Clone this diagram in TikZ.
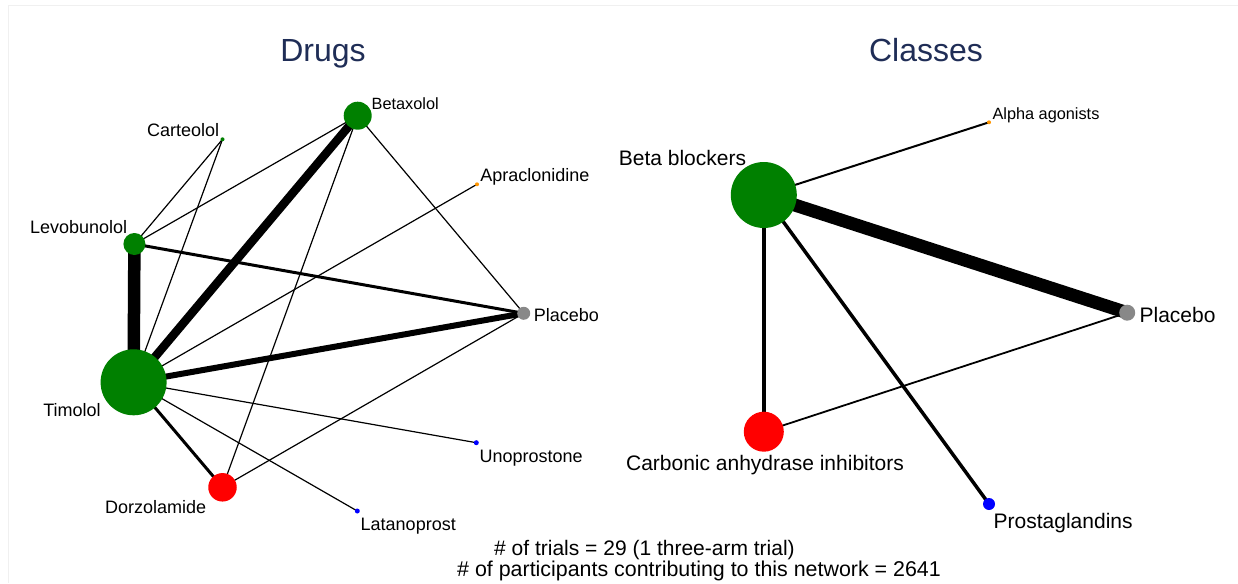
\documentclass[tikz,border=0pt]{standalone}
\usepackage{fontspec}
\setmainfont{Liberation Sans}
\usepackage{xcolor}
\usetikzlibrary{backgrounds}

\definecolor{netgreen}{RGB}{0,128,0}
\definecolor{netgray}{RGB}{136,136,136}
\definecolor{netorange}{RGB}{255,150,0}
\definecolor{titleblue}{RGB}{31,45,86}

\begin{document}
\begin{tikzpicture}[x=1pt, y=-1pt,
        nd/.style={circle, inner sep=0pt, draw=none, minimum size=#1},
        lbl/.style={inner sep=0pt, font=\fontsize{18}{20}\selectfont},
        lblS/.style={inner sep=0pt, font=\fontsize{16.3}{18}\selectfont},
        lblL/.style={inner sep=0pt, font=\fontsize{21}{24}\selectfont},
        ttl/.style={inner sep=0pt, anchor=base, text=titleblue, font=\fontsize{32}{36}\selectfont}]
            \useasboundingbox (0, 0) rectangle (1238, 583);
            \draw[black!6] (8, 583) -- (8, 5) -- (1238, 5);

            \node[ttl] (drugs) at (323, 61.5) {Drugs};
            \node[ttl] (classes) at (926, 61.5) {Classes};

            % drugs
            \node[nd=28, fill=netgreen] (bet) at (357.7, 115.7) {};
            \node[nd=4, fill=netgreen] (car) at (222.5, 139.3) {};
            \node[nd=4, fill=netorange] (apr) at (477, 184.3) {};
            \node[nd=22, fill=netgreen] (lev) at (134.4, 244) {};
            \node[nd=13, fill=netgray] (pla) at (523.7, 313.3) {};
            \node[nd=66, fill=netgreen] (tim) at (133.6, 382.3) {};
            \node[nd=28.5, fill=red] (dor) at (222.5, 487.3) {};
            \node[nd=5, fill=blue] (uno) at (476.3, 442.7) {};
            \node[nd=5, fill=blue] (lat) at (357.3, 511) {};

            \node[lblS, anchor=west] (betl) at (371.5, 103.3) {Betaxolol};
            \node[lbl, anchor=east] (carl) at (219.4, 130) {Carteolol};
            \node[lbl, anchor=west] (aprl) at (480.2, 176.7) {Apraclonidine};
            \node[lbl, anchor=east] (levl) at (127.3, 226.7) {Levobunolol};
            \node[lbl, anchor=west] (plal) at (533.6, 315) {Placebo};
            \node[lbl, anchor=east] (timl) at (100.8, 410) {Timolol};
            \node[lbl, anchor=east] (dorl) at (206.3, 506.7) {Dorzolamide};
            \node[lbl, anchor=west] (unol) at (479.4, 457.7) {Unoprostone};
            \node[lbl, anchor=west] (latl) at (360.5, 526) {Latanoprost};

            % classes
            \node[nd=66, fill=netgreen] (bb) at (763.8, 195) {};
            \node[nd=4, fill=netorange] (aa) at (989, 122.3) {};
            \node[nd=16, fill=netgray] (pc) at (1127.2, 312.7) {};
            \node[nd=40, fill=red] (cai) at (763.8, 431.7) {};
            \node[nd=12, fill=blue] (pg) at (989, 504) {};

            \node[lblL, anchor=east] (bbl) at (746.3, 158.3) {Beta blockers};
            \node[lblS, anchor=west] (aal) at (992.3, 115) {Alpha agonists};
            \node[lblL, anchor=west] (pcl) at (1139.4, 315) {Placebo};
            \node[lblL] (cail) at (765, 465) {Carbonic anhydrase inhibitors};
            \node[lblL, anchor=west] (pgl) at (993.5, 523.3) {Prostaglandins};

            \node[lblL, anchor=west] (ntrials) at (494, 550) {\# of trials = 29 (1 three-arm trial)};
            \node[lblL, anchor=west, font=\fontsize{21.4}{24}\selectfont] (nparts) at (457, 571) {\# of participants contributing to this network = 2641};

            \begin{scope}[on background layer]
                \draw[line width=12.5] (lev.center) -- (tim.center);
                \draw[line width=8.5] (bet.center) -- (tim.center);
                \draw[line width=6] (tim.center) -- (pla.center);
                \draw[line width=3] (lev.center) -- (pla.center);
                \draw[line width=3] (tim.center) -- (dor.center);
                \draw[line width=1.2] (car.center) -- (lev.center);
                \draw[line width=1.2] (car.center) -- (tim.center);
                \draw[line width=1.2] (bet.center) -- (lev.center);
                \draw[line width=1.2] (bet.center) -- (pla.center);
                \draw[line width=1.2] (bet.center) -- (dor.center);
                \draw[line width=1.2] (apr.center) -- (tim.center);
                \draw[line width=1.2] (pla.center) -- (dor.center);
                \draw[line width=1.2] (tim.center) -- (uno.center);
                \draw[line width=1.2] (tim.center) -- (lat.center);

                \draw[line width=13] (bb.center) -- (pc.center);
                \draw[line width=4.5] (bb.center) -- (cai.center);
                \draw[line width=3.5] (bb.center) -- (pg.center);
                \draw[line width=2] (bb.center) -- (aa.center);
                \draw[line width=1.8] (cai.center) -- (pc.center);
            \end{scope}
        \end{tikzpicture}
\end{document}
